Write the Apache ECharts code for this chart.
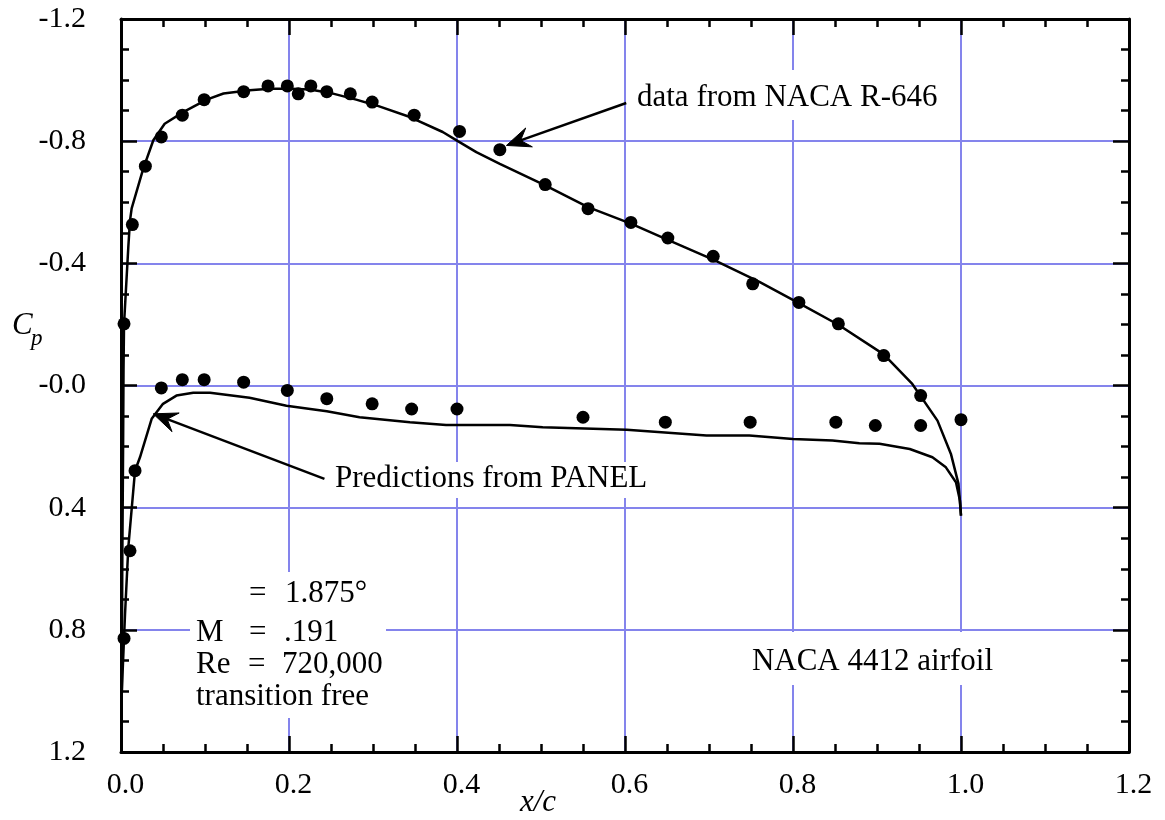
<!DOCTYPE html>
<html><head><meta charset="utf-8">
<script src="https://cdn.jsdelivr.net/npm/echarts@6/dist/echarts.min.js"></script>
<style>html,body{margin:0;padding:0;background:#fff}#c{width:1165px;height:820px}</style>
</head><body><div id="c"></div>
<script>
// ---- tick labels ----
const xTickLabels = ['0.0','0.2','0.4','0.6','0.8','1.0','1.2'];
const yTickLabels = ['-1.2','-0.8','-0.4','-0.0','0.4','0.8','1.2'];

// ---- experimental data (NACA R-646), [x/c, Cp] ----
const dataUpper = [
  [0.0036,-0.202],[0.0135,-0.527],[0.029,-0.718],[0.048,-0.814],[0.073,-0.885],
  [0.099,-0.936],[0.146,-0.962],[0.175,-0.981],[0.198,-0.981],[0.211,-0.955],
  [0.226,-0.981],[0.245,-0.962],[0.273,-0.955],[0.299,-0.928],[0.349,-0.885],
  [0.403,-0.832],[0.451,-0.772],[0.505,-0.658],[0.556,-0.579],[0.607,-0.534],
  [0.651,-0.483],[0.705,-0.423],[0.752,-0.333],[0.807,-0.272],[0.854,-0.202],
  [0.908,-0.098],[0.952,0.033]
];
const dataLower = [
  [0.0036,0.828],[0.0107,0.541],[0.0167,0.279],
  [0.048,0.008],[0.073,-0.019],[0.099,-0.019],[0.146,-0.011],[0.198,0.016],
  [0.245,0.043],[0.299,0.060],[0.346,0.077],[0.400,0.077],[0.550,0.104],
  [0.648,0.120],[0.749,0.120],[0.851,0.120],[0.898,0.131],[0.952,0.131],
  [1.000,0.112]
];

// ---- PANEL predictions, [x/c, Cp] ----
const panelUpper = [
  [0.001,1.0],[0.0015,0.6],[0.0025,0.2],[0.003,-0.05],[0.0036,-0.2],
  [0.0087,-0.453],[0.0107,-0.54],[0.0127,-0.58],[0.0265,-0.71],[0.0385,-0.803],
  [0.052,-0.857],[0.074,-0.895],[0.102,-0.936],[0.122,-0.956],[0.153,-0.967],
  [0.177,-0.972],[0.201,-0.972],[0.225,-0.969],[0.249,-0.958],[0.280,-0.936],
  [0.304,-0.917],[0.344,-0.879],[0.383,-0.830],[0.401,-0.800],[0.423,-0.764],
  [0.451,-0.726],[0.505,-0.655],[0.556,-0.584],[0.607,-0.530],[0.651,-0.477],
  [0.705,-0.412],[0.760,-0.339],[0.807,-0.270],[0.854,-0.199],[0.908,-0.102],
  [0.942,-0.005],[0.972,0.115],[0.988,0.224],[0.997,0.322],[1.0,0.426]
];
const panelLower = [
  [0.001,1.0],[0.0048,0.748],[0.0087,0.53],[0.0167,0.279],[0.0226,0.235],
  [0.0365,0.109],[0.050,0.060],[0.066,0.033],[0.086,0.024],[0.106,0.024],
  [0.153,0.040],[0.197,0.066],[0.245,0.084],[0.284,0.104],[0.344,0.120],
  [0.387,0.129],[0.463,0.129],[0.502,0.137],[0.602,0.145],[0.697,0.164],
  [0.748,0.164],[0.800,0.175],[0.847,0.180],[0.879,0.189],[0.903,0.191],
  [0.939,0.208],[0.966,0.235],[0.982,0.268],[0.994,0.317],[0.9988,0.377],
  [1.0,0.426]
];

// ---- annotation arrows (data coords): from -> tip ----
const arrowFrom = [[0.6015,-0.925],[0.2422,0.3057]];
const arrowTo   = [[0.4588,-0.786],[0.0383,0.0927]];

const FONT = 'Liberation Serif';
const GRIDC = '#8484ec';

function xAxisBase(extra){
  return Object.assign({
    type:'value', min:0, max:1.2, interval:0.2,
    axisLine:{show:true, onZero:false, lineStyle:{color:'#000', width:3}},
    axisTick:{show:true, inside:true, length:16, lineStyle:{color:'#000', width:2.5}},
    minorTick:{show:true, splitNumber:4, length:8, lineStyle:{color:'#000', width:2.5}},
    splitLine:{show:false},
    axisLabel:{show:false},
    z:3
  }, extra);
}
function yAxisBase(extra){
  return Object.assign({
    type:'value', min:-1.2, max:1.2, interval:0.4, inverse:true,
    axisLine:{show:true, onZero:false, lineStyle:{color:'#000', width:3}},
    axisTick:{show:true, inside:true, length:16, lineStyle:{color:'#000', width:2.5}},
    minorTick:{show:true, splitNumber:4, length:8, lineStyle:{color:'#000', width:2.5}},
    splitLine:{show:false},
    axisLabel:{show:false},
    z:3
  }, extra);
}

const chart = echarts.init(document.getElementById('c'), null, {renderer:'canvas'});
chart.setOption({
  animation:false,
  backgroundColor:'#fff',
  grid:{left:121, right:36, top:19, bottom:68, containLabel:false},
  xAxis:[
    xAxisBase({position:'bottom',
      axisLabel:{show:true, color:'#000', fontFamily:FONT, fontSize:30, margin:18, padding:[0,0,0,9],
        formatter:(v)=>xTickLabels[Math.round(v/0.2)]}}),
    xAxisBase({position:'top'}),
    {type:'value', position:'bottom', min:0, max:1.2, interval:0.2, z:1,
      axisLine:{show:false, onZero:false}, axisTick:{show:false}, axisLabel:{show:false},
      splitLine:{show:true, showMinLine:false, showMaxLine:false, lineStyle:{color:GRIDC, width:2}}}
  ],
  yAxis:[
    yAxisBase({position:'left',
      axisLabel:{show:true, color:'#000', fontFamily:FONT, fontSize:30, margin:35,
        formatter:(v)=>yTickLabels[Math.round((v+1.2)/0.4)]}}),
    yAxisBase({position:'right'}),
    {type:'value', position:'left', min:-1.2, max:1.2, interval:0.4, inverse:true, z:1,
      axisLine:{show:false, onZero:false}, axisTick:{show:false}, axisLabel:{show:false},
      splitLine:{show:true, showMinLine:false, showMaxLine:false, lineStyle:{color:GRIDC, width:2}}}
  ],
  series:[
    {type:'line', name:'PANEL upper', data:panelUpper, xAxisIndex:0, yAxisIndex:0,
      showSymbol:false, symbol:'none', lineStyle:{color:'#000', width:2.5}, z:4},
    {type:'line', name:'PANEL lower', data:panelLower, xAxisIndex:0, yAxisIndex:0,
      showSymbol:false, symbol:'none', lineStyle:{color:'#000', width:2.5}, z:4},
    {type:'scatter', name:'data upper', data:dataUpper, xAxisIndex:0, yAxisIndex:0,
      symbol:'circle', symbolSize:13, itemStyle:{color:'#000', opacity:1}, z:5},
    {type:'scatter', name:'data lower', data:dataLower, xAxisIndex:0, yAxisIndex:0,
      symbol:'circle', symbolSize:13, itemStyle:{color:'#000', opacity:1}, z:5}
  ]
});

// ---- annotations ----
const g = [];
const txt = (x,y,text,opt)=>Object.assign({type:'text', x, y, z:20,
  style:Object.assign({text, fill:'#000', font:'31px "Liberation Serif"', textVerticalAlign:'middle'}, opt||{})});

// arrows
for (let i=0;i<arrowFrom.length;i++){
  const a = chart.convertToPixel({xAxisIndex:0,yAxisIndex:0}, arrowFrom[i]);
  const b = chart.convertToPixel({xAxisIndex:0,yAxisIndex:0}, arrowTo[i]);
  const dx=b[0]-a[0], dy=b[1]-a[1], L=Math.hypot(dx,dy), ux=dx/L, uy=dy/L, px=-uy, py=ux;
  const len=24, w=10, notch=15;
  const back=[b[0]-ux*len, b[1]-uy*len];
  const nb=[b[0]-ux*notch, b[1]-uy*notch];
  g.push({type:'polyline', z:15, shape:{points:[a, nb]}, style:{stroke:'#000', lineWidth:2.5, fill:null}});
  g.push({type:'polygon', z:15, shape:{points:[b,[back[0]+px*w,back[1]+py*w],nb,[back[0]-px*w,back[1]-py*w]]},
    style:{fill:'#000', stroke:'#000', lineWidth:1}});
}

// white boxes hiding grid lines behind text
g.push({type:'rect', z:12, shape:{x:190,y:572,width:196,height:146}, style:{fill:'#fff'}});
g.push({type:'rect', z:12, shape:{x:629,y:70,width:320,height:50}, style:{fill:'#fff'}});
g.push({type:'rect', z:12, shape:{x:328,y:462,width:334,height:36}, style:{fill:'#fff'}});
g.push({type:'rect', z:12, shape:{x:752,y:632,width:248,height:53}, style:{fill:'#fff'}});

g.push(txt(637,98,'data from NACA R-646'));
g.push(txt(335,479,'Predictions from PANEL'));
g.push(txt(993,662,'NACA 4412 airfoil',{textAlign:'right'}));

// condition block
g.push(txt(249,594,'='));
g.push(txt(285,594,'1.875°'));
g.push(txt(196,633,'M'));
g.push(txt(249,633,'='));
g.push(txt(284,633,'.191'));
g.push(txt(196,665,'Re'));
g.push(txt(248,665,'='));
g.push(txt(282,665,'720,000'));
g.push(txt(196,697,'transition free'));

// axis titles
g.push(txt(538,803,'x/c',{textAlign:'center', font:'italic 31px "Liberation Serif"'}));
g.push(txt(12,326,'C',{font:'italic 31px "Liberation Serif"'}));
g.push(txt(31,339,'p',{font:'italic 23px "Liberation Serif"'}));

chart.setOption({graphic:g});
</script>
</body></html>
